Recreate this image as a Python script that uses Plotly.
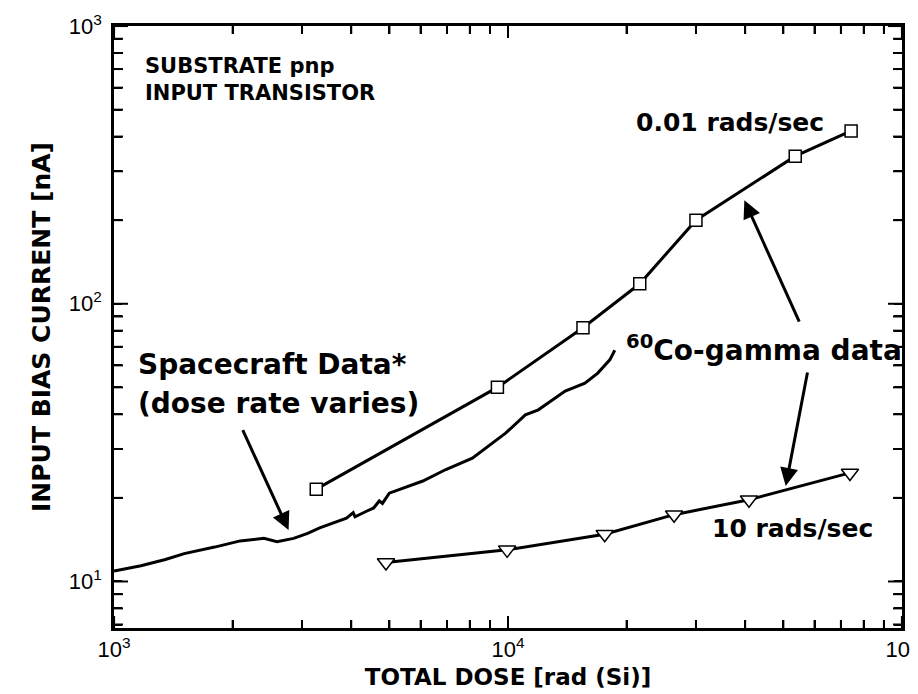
import numpy as np
import plotly.graph_objects as go

# ---- data ----
slow_dose = [3260, 9400, 15500, 21600, 30000, 53600, 74300]          # 0.01 rads/sec
slow_current = [21.5, 50, 82, 118, 200, 340, 419]

fast_dose = [4900, 9950, 17600, 26400, 40900, 73800]                 # 10 rads/sec
fast_current = [11.7, 13.0, 14.8, 17.4, 19.7, 24.6]

craft_dose = [1000, 1170, 1350, 1507, 1800, 2090, 2400, 2592, 2856, 3100, 3326,
              3600, 3890, 4046, 4090, 4373, 4560, 4712, 4800, 4996, 5500, 6078,
              6955, 8120, 9860, 11070, 11940, 13970, 15680, 16900, 18130, 18670]
craft_current = [10.9, 11.4, 12.0, 12.6, 13.3, 14.0, 14.3, 13.9, 14.3, 14.9, 15.6,
                 16.2, 16.9, 17.7, 17.1, 17.9, 18.4, 19.5, 19.1, 20.8, 21.9, 23.0,
                 25.3, 27.8, 34.2, 39.8, 41.5, 48.5, 51.8, 56.3, 62.8, 68.0]

x_major = [1e3, 1e4, 1e5]
x_major_text = ["10<sup>3</sup>", "10<sup>4</sup>", "10<sup>5</sup>"]
y_major = [1e1, 1e2, 1e3]
y_major_text = ["10<sup>1</sup>", "10<sup>2</sup>", "10<sup>3</sup>"]
x_minor = [m * 10 ** e for e in (3, 4) for m in range(2, 10)]
y_minor = [7, 8, 9] + [m * 10 ** e for e in (1, 2) for m in range(2, 10)]

x_tickvals = x_major + x_minor
x_ticktext = x_major_text + [""] * len(x_minor)
y_tickvals = y_major + y_minor
y_ticktext = y_major_text + [""] * len(y_minor)

BOLD = "DejaVu Sans"
REG = "Liberation Sans, Arial"

X_RANGE = [2.9998, 5.0002]
Y_RANGE = [float(np.log10(6.8)), 3.0002]
W, H = 918, 694
MARGIN = dict(l=106, r=24, t=18, b=74)
PLOT_W = W - MARGIN["l"] - MARGIN["r"]
PLOT_H = H - MARGIN["t"] - MARGIN["b"]

fig = go.Figure()
fig.add_trace(go.Scatter(x=craft_dose, y=craft_current, mode="lines",
                         line=dict(color="black", width=3), showlegend=False))
fig.add_trace(go.Scatter(x=slow_dose, y=slow_current, mode="lines+markers",
                         line=dict(color="black", width=3),
                         marker=dict(symbol="square", size=12, color="white",
                                     line=dict(color="black", width=1.5)),
                         showlegend=False))
fig.add_trace(go.Scatter(x=fast_dose, y=fast_current, mode="lines+markers",
                         line=dict(color="black", width=3),
                         marker=dict(symbol="triangle-down", size=15, color="white",
                                     line=dict(color="black", width=1.5)),
                         showlegend=False))

axis_common = dict(
    type="log", showgrid=False, zeroline=False, showline=True, automargin=False,
    linecolor="black", linewidth=2.5, mirror="allticks",
    ticks="inside", ticklen=8, tickwidth=2, tickcolor="black",
    tickfont=dict(family=REG, size=22, color="black"),
    ticklabeloverflow="allow", tickmode="array",
)

fig.update_layout(
    xaxis=dict(**axis_common, range=X_RANGE, tickvals=x_tickvals, ticktext=x_ticktext,
               title=dict(text="<b>TOTAL DOSE [rad (Si)]</b>",
                          font=dict(family=BOLD, size=23, color="black"), standoff=8)),
    yaxis=dict(**axis_common, range=Y_RANGE, tickvals=y_tickvals, ticktext=y_ticktext,
               ticklabelstandoff=5,
               title=dict(text="<b>INPUT BIAS CURRENT [nA]</b>",
                          font=dict(family=BOLD, size=25, color="black"), standoff=12)),
)

# tick marks on all four sides (positions derived from the axis ranges)
def xfrac(v):
    return (np.log10(v) - X_RANGE[0]) / (X_RANGE[1] - X_RANGE[0])

def yfrac(v):
    return (np.log10(v) - Y_RANGE[0]) / (Y_RANGE[1] - Y_RANGE[0])

tick_style = dict(color="black", width=2)
for vals, length in ((x_major, 12), (x_minor, 8)):
    for v in vals:
        f = float(xfrac(v))
        d = length / PLOT_H
        fig.add_shape(type="line", xref="paper", yref="paper", x0=f, x1=f, y0=0, y1=d,
                      line=tick_style)
        fig.add_shape(type="line", xref="paper", yref="paper", x0=f, x1=f, y0=1, y1=1 - d,
                      line=tick_style)
for vals, length in ((y_major, 14), (y_minor, 9)):
    for v in vals:
        f = float(yfrac(v))
        d = length / PLOT_W
        fig.add_shape(type="line", xref="paper", yref="paper", x0=0, x1=d, y0=f, y1=f,
                      line=tick_style)
        fig.add_shape(type="line", xref="paper", yref="paper", x0=1, x1=1 - d, y0=f, y1=f,
                      line=tick_style)

def label(text, x, y, size, xanchor="left"):
    fig.add_annotation(text="<b>" + text + "</b>", x=x, y=y, xref="paper", yref="paper",
                       xanchor=xanchor, yanchor="middle", showarrow=False,
                       font=dict(family=BOLD, size=size, color="black"))

label("SUBSTRATE pnp", 0.0365, 0.9336, 21)
label("INPUT TRANSISTOR", 0.0365, 0.8887, 21)
label("0.01 rads/sec", 0.9040, 0.8400, 25, xanchor="right")
label("Spacecraft Data*", 0.0277, 0.4369, 28)
label("(dose rate varies)", 0.0277, 0.3721, 28)
label("<sup>60</sup>Co-gamma data", 0.6470, 0.4651, 28)
label("10 rads/sec", 0.7560, 0.1645, 25)

def arrow(x_head, y_head, x_tail, y_tail):
    fig.add_annotation(x=x_head, y=y_head, ax=x_tail, ay=y_tail,
                       xref="x", yref="y", axref="x", ayref="y", text="",
                       showarrow=True, arrowhead=2, arrowsize=1.2, arrowwidth=3,
                       arrowcolor="black", standoff=0, startstandoff=0)

# arrow endpoints in log10 axis units
arrow(3.443, 1.185, 3.325, 1.550)
arrow(4.600, 2.373, 4.741, 1.930)
arrow(4.705, 1.344, 4.761, 1.758)

fig.update_layout(width=W, height=H, plot_bgcolor="white", paper_bgcolor="white",
                  margin=MARGIN, showlegend=False)

fig.write_html("out.html")
